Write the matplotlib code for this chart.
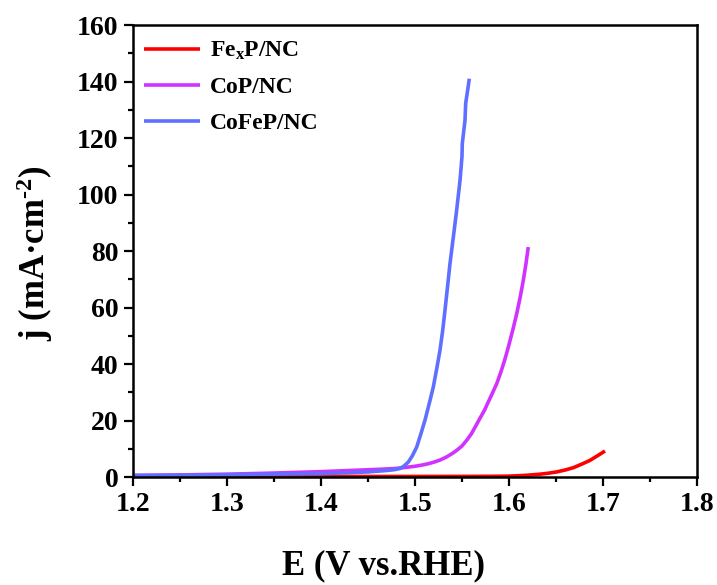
import matplotlib
matplotlib.use("Agg")
import matplotlib.pyplot as plt
from matplotlib.ticker import MultipleLocator

plt.rcParams['font.family'] = ['Liberation Serif', 'DejaVu Serif']
plt.rcParams['font.weight'] = 'bold'
plt.rcParams['mathtext.fontset'] = 'custom'
plt.rcParams['mathtext.rm'] = 'Liberation Serif:bold'
plt.rcParams['mathtext.it'] = 'Liberation Serif:bold'
plt.rcParams['mathtext.bf'] = 'Liberation Serif:bold'

# Fe_xP/NC
fe_E = [1.20, 1.30, 1.40, 1.50, 1.55, 1.58, 1.5975, 1.61, 1.62, 1.633, 1.642, 1.6507, 1.66, 1.6684, 1.677, 1.6862, 1.694, 1.7021]
fe_j = [0.15, 0.15, 0.18, 0.2, 0.22, 0.25, 0.3, 0.45, 0.65, 1.0, 1.35, 1.8, 2.5, 3.3, 4.5, 5.9, 7.5, 9.2]

# CoP/NC
cop_E = [1.20, 1.25, 1.30, 1.35, 1.40, 1.43, 1.46, 1.4787, 1.49, 1.50, 1.507, 1.5142, 1.5205, 1.5266, 1.533, 1.54, 1.545, 1.55, 1.555, 1.56,
         1.5645, 1.5691, 1.574, 1.578, 1.5825, 1.587, 1.5915, 1.5955, 1.5993, 1.604, 1.6082, 1.612, 1.6152, 1.618, 1.6205]
cop_j = [0.6, 0.75, 1.0, 1.4, 1.9, 2.3, 2.7, 3.0, 3.4, 3.8, 4.2, 4.7, 5.3, 6.0, 7.0, 8.4, 9.6, 11.0, 13.0, 15.3,
         18.0, 20.8, 23.7, 26.6, 29.8, 33.1, 37.3, 41.5, 46.0, 52.0, 57.8, 63.8, 69.6, 75.4, 81.4]

# CoFeP/NC
cofep_E = [1.20, 1.25, 1.30, 1.35, 1.40, 1.43, 1.45, 1.47, 1.478, 1.484, 1.488, 1.4929, 1.497, 1.5018, 1.506, 1.5106, 1.515, 1.5195,
           1.5232, 1.5266, 1.5295, 1.5319, 1.5345, 1.5372, 1.5408, 1.5443, 1.5479, 1.5500, 1.5503, 1.5532, 1.5539, 1.5578]
cofep_j = [0.5, 0.6, 0.8, 1.0, 1.2, 1.5, 1.8, 2.3, 2.6, 3.0, 3.8, 5.3, 7.4, 10.6, 15.0, 20.1, 25.8, 31.9,
           38.5, 44.9, 52.0, 59.0, 67.0, 75.5, 85.0, 94.4, 105.0, 113.5, 118.0, 126.3, 132.2, 141.0]

fig = plt.figure(figsize=(7.17, 5.85), dpi=100)
ax = fig.add_axes([0.1855, 0.1846, 0.7866, 0.7726])

lw = 2.6
ax.plot(fe_E, fe_j, color='#FF0000', lw=lw, label=r'Fe$_\mathrm{x}$P/NC', solid_capstyle='butt')
ax.plot(cop_E, cop_j, color='#D232FF', lw=lw, label='CoP/NC', solid_capstyle='butt')
ax.plot(cofep_E, cofep_j, color='#5F6FFF', lw=lw, label='CoFeP/NC', solid_capstyle='butt')

ax.set_xlim(1.2, 1.8)
ax.set_ylim(0, 160)
ax.xaxis.set_major_locator(MultipleLocator(0.1))
ax.xaxis.set_minor_locator(MultipleLocator(0.05))
ax.yaxis.set_major_locator(MultipleLocator(20))
ax.yaxis.set_minor_locator(MultipleLocator(10))
ax.tick_params(which='both', direction='out', width=1.6, top=False, right=False)
ax.tick_params(which='major', length=6.5, labelsize=20, pad=4)
ax.tick_params(which='minor', length=3.5)
for s in ax.spines.values():
    s.set_linewidth(1.8)
for lab in ax.get_xticklabels() + ax.get_yticklabels():
    lab.set_fontweight('bold')

fig.text(384 / 717, 1 - 574 / 585, 'E (V vs.RHE)', fontsize=25, fontweight='bold',
         ha='center', va='baseline')
fig.text(35 / 717, 1 - 253 / 585, r'j (mA·cm$^{\mathrm{‐}2}$)', fontsize=25, fontweight='bold',
         ha='center', va='center', rotation=90)

leg = ax.legend(loc='upper left', frameon=False, handlelength=2.4,
                handletextpad=0.42, labelspacing=0.6, borderaxespad=0.05,
                bbox_to_anchor=(0.0, 0.99),
                prop={'weight': 'bold', 'size': 17})

fig.savefig('out.png', dpi=100)
